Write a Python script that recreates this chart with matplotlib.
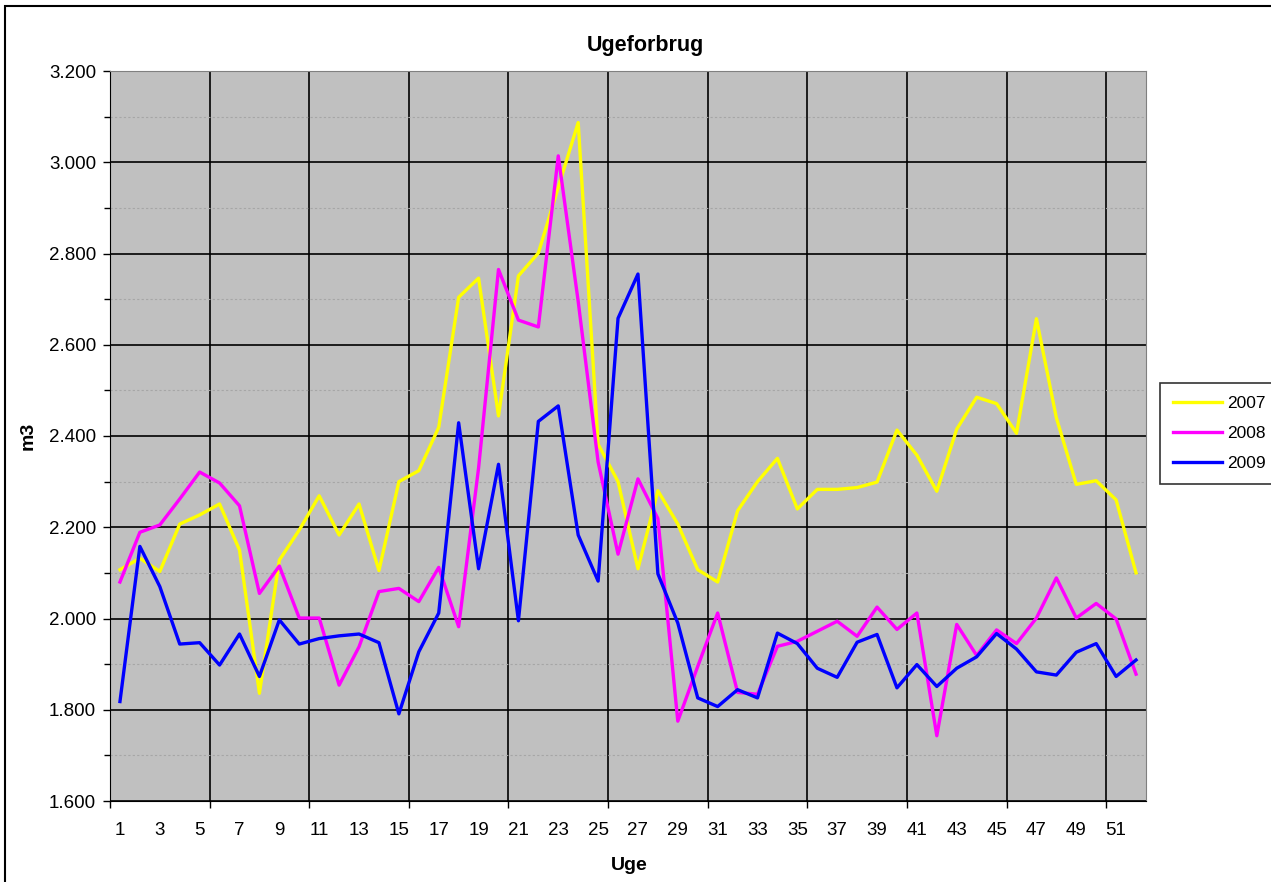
import matplotlib
matplotlib.use("Agg")
import matplotlib.pyplot as plt
from matplotlib.patches import Rectangle
from matplotlib.ticker import FuncFormatter, MultipleLocator

plt.rcParams['font.family'] = ['Liberation Sans', 'DejaVu Sans']

weeks = list(range(1, 53))
series_names = ['2007', '2008', '2009']
y2007 = [2107, 2132, 2103, 2207, 2227, 2251, 2150, 1836, 2128, 2194,
         2269, 2183, 2251, 2105, 2300, 2324, 2419, 2704, 2746, 2444,
         2751, 2801, 2945, 3087, 2382, 2300, 2109, 2280, 2207, 2107,
         2080, 2236, 2300, 2351, 2240, 2283, 2283, 2287, 2299, 2413,
         2358, 2279, 2415, 2485, 2471, 2406, 2657, 2440, 2294, 2302,
         2260, 2100]
y2008 = [2080, 2189, 2205, 2262, 2321, 2297, 2247, 2055, 2115, 2001,
         2001, 1854, 1938, 2059, 2066, 2037, 2112, 1982, 2330, 2765,
         2654, 2639, 3014, 2695, 2343, 2141, 2306, 2219, 1775, 1895,
         2012, 1838, 1834, 1939, 1950, 1972, 1994, 1961, 2025, 1976,
         2012, 1743, 1987, 1919, 1975, 1945, 2001, 2089, 2001, 2033,
         1999, 1878]
y2009 = [1818, 2158, 2070, 1944, 1947, 1898, 1966, 1873, 1997, 1944,
         1956, 1962, 1966, 1947, 1791, 1927, 2012, 2429, 2109, 2338,
         1995, 2432, 2466, 2183, 2082, 2658, 2755, 2098, 1990, 1826,
         1807, 1844, 1826, 1968, 1945, 1891, 1871, 1948, 1965, 1848,
         1899, 1851, 1891, 1916, 1967, 1933, 1883, 1876, 1926, 1945,
         1873, 1909]
colors = ['#FFFF00', '#FF00FF', '#0000FF']


def dot_thousands(v, pos):
    return f"{v:,.0f}".replace(",", ".")


def plot_data():
    W, H = 1271, 882
    fig = plt.figure(figsize=(W / 100, H / 100), dpi=100)
    ax = fig.add_axes([110 / W, 1 - 801 / H, (1146 - 110) / W, (801 - 71) / H])
    ax.set_facecolor('#C0C0C0')

    # outer chart border
    fig.patches.append(Rectangle((5 / W, -0.05), 1.1, 1 - 6 / H + 0.05,
                                 transform=fig.transFigure, fill=False,
                                 edgecolor='black', lw=1.5, clip_on=False))

    for vals, name, c in zip([y2007, y2008, y2009], series_names, colors):
        ax.plot(weeks, vals, color=c, lw=2.4, label=name, zorder=3)

    ax.set_xlim(0.5, 52.5)
    ax.set_ylim(1600, 3200)

    ax.yaxis.set_major_locator(MultipleLocator(200))
    ax.yaxis.set_minor_locator(MultipleLocator(100))
    ax.yaxis.set_major_formatter(FuncFormatter(dot_thousands))
    ax.grid(axis='y', which='major', color='black', lw=1.2, zorder=1)
    ax.grid(axis='y', which='minor', color='#A6A6A6', lw=0.8,
            ls=(0, (2, 2)), zorder=1)

    ax.set_xticks([0.5 + 5 * i for i in range(11)])
    ax.set_xticklabels([])
    ax.set_xticks(weeks[::2], minor=True)
    ax.set_xticklabels([str(w) for w in weeks[::2]], minor=True)
    ax.grid(axis='x', which='major', color='black', lw=1.2, zorder=1)
    ax.tick_params(axis='x', which='minor', length=0, pad=15, labelsize=13.5)
    ax.tick_params(axis='x', which='major', length=5, width=1)
    ax.tick_params(axis='y', which='major', length=5, width=1, labelsize=13.5, pad=5)
    ax.tick_params(axis='y', which='minor', length=4, width=1)

    for s in ax.spines.values():
        s.set_color('#808080')
    ax.spines['left'].set_color('black')
    ax.spines['bottom'].set_color('black')

    fig.text(645 / W, 1 - 45 / H, 'Ugeforbrug', ha='center', va='center',
             fontsize=15.5, fontweight='bold')
    fig.text(28 / W, 1 - 436 / H, 'm3', ha='center', va='center',
             rotation=90, fontsize=14, fontweight='bold')
    fig.text(629 / W, 1 - 866 / H, 'Uge', ha='center', va='center',
             fontsize=14, fontweight='bold')

    leg = fig.legend(loc='upper left', bbox_to_anchor=(1160 / W, 1 - 383 / H),
                     frameon=True, fancybox=False, fontsize=12.5, handlelength=2.8,
                     borderaxespad=0, borderpad=0.75, labelspacing=0.85,
                     handletextpad=0.3)
    leg.get_frame().set_edgecolor('black')
    leg.get_frame().set_linewidth(1.2)

    fig.savefig('out.png', dpi=100)


def main():
    plot_data()


if __name__ == '__main__':
    main()
